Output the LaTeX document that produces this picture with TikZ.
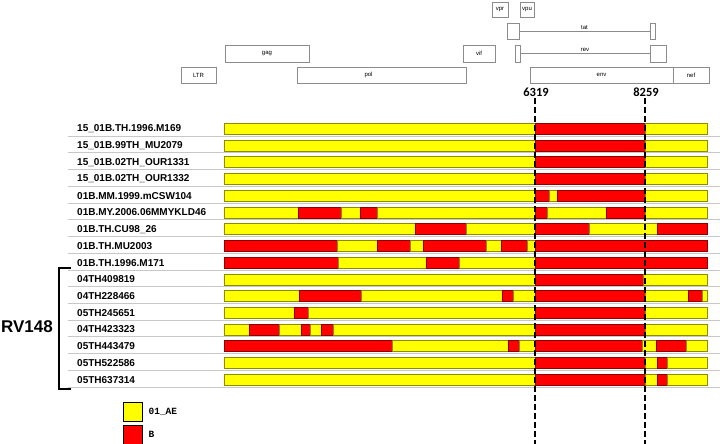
\documentclass[tikz,border=0pt]{standalone}
\usepackage{fontspec}
\setmainfont{Liberation Sans}
\setmonofont{Liberation Mono}
\newfontfamily\calibri{Carlito}
\usepackage{xcolor}
\definecolor{AE}{HTML}{FFFF00}
\definecolor{B}{HTML}{FF0000}
\definecolor{genegray}{HTML}{8C8C8C}
\definecolor{rulegray}{HTML}{C8C8C8}
\usetikzlibrary{positioning, calc}

\begin{document}
\begin{tikzpicture}[
    x=1pt, y=-1pt,
    gene/.style={draw=genegray, fill=white, inner sep=0pt, font=\fontsize{6}{7}\selectfont},
    strain/.style={anchor=west, inner sep=0pt, font=\fontsize{10}{12}\selectfont\bfseries},
    bp/.style={inner sep=0pt, font=\fontsize{12.5}{14}\selectfont\calibri\bfseries},
    cut/.style={line width=2pt, dash pattern=on 6pt off 3pt},
    key/.style={draw=black, line width=0.8pt, minimum size=19pt, inner sep=0pt},
    keytxt/.style={anchor=west, inner sep=0pt, font=\fontsize{9.5}{11}\selectfont\ttfamily\bfseries},
]
\useasboundingbox (0,0) rectangle (720,444);

% genome map
\node[gene, minimum width=35pt, minimum height=16pt] (ltr) at (198.5,75) {LTR};
\node[gene, minimum width=84pt, minimum height=17pt] (gag) at (267,53.5) {gag};
\node[gene, minimum width=169pt, minimum height=16pt] (pol) at (381.5,75) {\hspace*{-13pt}pol\hspace*{13pt}};
\node[gene, minimum width=32pt, minimum height=17pt] (vif) at (479,53.5) {vif};
\node[gene, minimum width=16pt, minimum height=15pt] (vpr) at (500,9.5) {vpr};
\node[gene, minimum width=14pt, minimum height=15pt] (vpu) at (527,9.5) {vpu};
\node[gene, minimum width=143pt, minimum height=16pt] (env) at (601.5,75) {env};
\node[gene, minimum width=36pt, minimum height=16pt] (nef) at (691,75) {nef};
\node[gene, minimum width=12pt, minimum height=16pt] (tatA) at (513,31) {};
\node[gene, minimum width=5pt, minimum height=16pt] (tatB) at (652.5,31) {};
\node[gene, minimum width=5pt, minimum height=17pt] (revA) at (517.5,53.5) {};
\node[gene, minimum width=16pt, minimum height=17pt] (revB) at (658,53.5) {};
\draw[genegray] (tatA) -- node[above=1.5pt, font=\fontsize{6}{7}\selectfont, black, inner sep=0pt]{tat} (tatB);
\draw[genegray] (revA) -- node[above=1.5pt, font=\fontsize{6}{7}\selectfont, black, inner sep=0pt]{rev} (revB);

% strains and recombination segments
\foreach \r/\name/\segs in {
  0/15\_01B.TH.1996.M169/{224/535/AE,535/645/B,645/707/AE},
  1/15\_01B.99TH\_MU2079/{224/535/AE,535/645/B,645/707/AE},
  2/15\_01B.02TH\_OUR1331/{224/535/AE,535/645/B,645/707/AE},
  3/15\_01B.02TH\_OUR1332/{224/535/AE,535/645/B,645/707/AE},
  4/01B.MM.1999.mCSW104/{224/535/AE,535/549/B,549/557/AE,557/645/B,645/707/AE},
  5/01B.MY.2006.06MMYKLD46/{224/298/AE,298/341/B,341/360/AE,360/377/B,377/535/AE,535/547/B,547/606/AE,606/645/B,645/707/AE},
  6/01B.TH.CU98\_26/{224/415/AE,415/466/B,466/535/AE,535/589/B,589/657/AE,657/707/B},
  7/01B.TH.MU2003/{224/337/B,337/377/AE,377/410/B,410/423/AE,423/486/B,486/501/AE,501/527/B,527/535/AE,535/707/B},
  8/01B.TH.1996.M171/{224/338/B,338/426/AE,426/459/B,459/535/AE,535/707/B},
  9/04TH409819/{224/535/AE,535/643/B,643/707/AE},
  10/04TH228466/{224/299/AE,299/361/B,361/502/AE,502/513/B,513/535/AE,535/645/B,645/688/AE,688/702/B,702/707/AE},
  11/05TH245651/{224/294/AE,294/308/B,308/535/AE,535/645/B,645/707/AE},
  12/04TH423323/{224/249/AE,249/279/B,279/301/AE,301/310/B,310/321/AE,321/333/B,333/535/AE,535/645/B,645/707/AE},
  13/05TH443479/{224/392/B,392/508/AE,508/519/B,519/535/AE,535/642/B,642/656/AE,656/686/B,686/707/AE},
  14/05TH522586/{224/535/AE,535/645/B,645/657/AE,657/667/B,667/707/AE},
  15/05TH637314/{224/535/AE,535/645/B,645/657/AE,657/667/B,667/707/AE}}{
  \pgfmathsetmacro\yc{128.8+16.73*\r}
  \node[strain] (s\r) at (77,\yc) {\name};
  \foreach \a/\b/\c in \segs
    \draw[fill=\c, draw=\c!55!black, line width=0.6pt] (\a,\yc-5.5) rectangle (\b,\yc+5.5);
  \draw[rulegray, line width=0.6pt] (68,\yc+7.2) -- (720,\yc+7.2);
}

% breakpoints
\node[bp] (bpA) at (536,92) {6319};
\node[bp] (bpB) at (646,92) {8259};
\coordinate (cutAtop) at (534.5,98);
\coordinate (cutAbot) at (534.5,444);
\coordinate (cutBtop) at (645,98);
\coordinate (cutBbot) at (645,444);
\draw[cut] (cutAtop) -- (cutAbot);
\draw[cut] (cutBtop) -- (cutBbot);

% RV148 group
\draw[line width=2pt] (71,268) -- (59,268) -- (59,389) -- (71,389);
\node[inner sep=0pt, font=\fontsize{17}{20}\selectfont\bfseries] (rv) at (27,327) {RV148};

% legend
\node[key, fill=AE] (keyAE) at (132.5,411.5) {};
\node[key, fill=B] (keyB) at (132.5,434.5) {};
\node[keytxt, right=6pt of keyAE] {01\_AE};
\node[keytxt, right=6pt of keyB] {B};
\end{tikzpicture}
\end{document}
